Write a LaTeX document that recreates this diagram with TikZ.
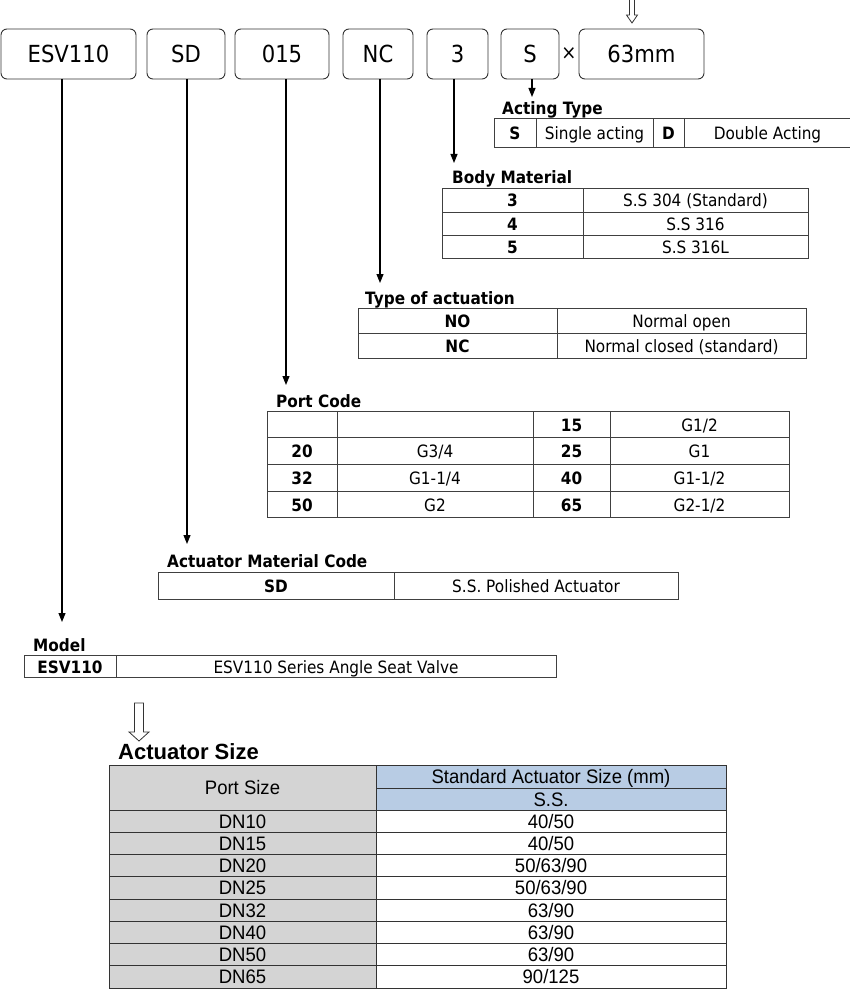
\documentclass[tikz,border=0pt]{standalone}
\usepackage{fontspec}
\setmainfont{DejaVu Sans}[FakeStretch=0.9]
\newfontfamily\arn{Liberation Sans}[FakeStretch=0.95]
\newfontfamily\arw{Liberation Sans}
\usetikzlibrary{arrows.meta}
\definecolor{cellgray}{HTML}{D4D4D4}
\definecolor{cellblue}{HTML}{B8CCE4}
\tikzset{
 code/.style={draw=black!80, line width=0.9pt, rounded corners=6pt, inner sep=0pt, outer sep=0pt,
   text height=17pt, text depth=0pt, font=\fontsize{23.5}{23.5}\selectfont},
 cellb/.style={draw=black!75, line width=0.9pt, inner sep=0pt, outer sep=0pt,
   text height=14pt, text depth=0pt, font=\fontsize{17}{17}\selectfont},
 ttl/.style={anchor=base west, inner sep=0pt, font=\bfseries\fontsize{17}{17}\selectfont},
 bigttl/.style={anchor=base west, inner sep=0pt, font=\arw\bfseries\fontsize{22}{22}\selectfont},
 conn/.style={draw=black, line width=1.1pt, -{Triangle[length=9pt,width=7pt]}},
 hollow/.style={draw=black!80, line width=0.8pt, fill=white},
 bcell/.style={draw=black!80, line width=0.8pt, inner sep=0pt, outer sep=0pt,
   text height=14pt, text depth=0pt, font=\arn\fontsize{19.5}{19.5}\selectfont},
}
\newcommand\Cell[7]{\node[#6, minimum width={((#4)-(#2))*1pt}, minimum height={((#5)-(#3))*1pt}] (#1) at ({((#2)+(#4))/2},{((#3)+(#5))/2}) {#7};}
\begin{document}
\begin{tikzpicture}[x=1pt,y=-1pt]
\useasboundingbox (0,0) rectangle (850,1000);
% top code boxes
\Cell{esv}{1}{29}{136}{79}{code}{ESV110}
\Cell{sd}{147}{29}{225}{79}{code}{SD}
\Cell{c015}{235}{29}{329}{79}{code}{015}
\Cell{nc}{343}{29}{413}{79}{code}{NC}
\Cell{c3}{427}{29}{488}{79}{code}{3}
\Cell{cs}{501}{29}{559}{79}{code}{S}
\node[inner sep=0pt, font=\fontsize{20}{20}\selectfont] (times) at (569,54) {×};
\Cell{c63}{579}{29}{704}{79}{code}{63mm}
% hollow arrow at top
\draw[hollow] (629.5,-2) -- (629.5,15) -- (626.5,15) -- (632,23) -- (637.5,15) -- (634.5,15) -- (634.5,-2);
% connector tips
\coordinate (tM) at (62,622);
\coordinate (tSD) at (187,544);
\coordinate (t015) at (286,385);
\coordinate (tNC) at (380,283);
\coordinate (t3) at (454,163);
\coordinate (tS) at (532,97);
\draw[conn] (esv.south -| tM) -- (tM);
\draw[conn] (sd.south -| tSD) -- (tSD);
\draw[conn] (c015.south -| t015) -- (t015);
\draw[conn] (nc.south -| tNC) -- (tNC);
\draw[conn] (c3.south -| t3) -- (t3);
\draw[conn] (cs.south -| tS) -- (tS);
% Acting Type
\node[ttl] (ttlAT) at (502,115) {Acting Type};
\Cell{at1}{494}{118}{536}{147}{cellb}{\bfseries S}
\Cell{at2}{536}{118}{653}{147}{cellb}{Single acting}
\Cell{at3}{653}{118}{684}{147}{cellb}{\bfseries D}
\Cell{at4}{684}{118}{851}{147}{cellb}{Double Acting}
% Body Material
\node[ttl] (ttlBM) at (452,184) {Body Material};
\Cell{bm1a}{442}{188}{583}{212}{cellb}{\bfseries 3}
\Cell{bm1b}{583}{188}{808}{212}{cellb}{S.S 304 (Standard)}
\Cell{bm2a}{442}{212}{583}{235}{cellb}{\bfseries 4}
\Cell{bm2b}{583}{212}{808}{235}{cellb}{S.S 316}
\Cell{bm3a}{442}{235}{583}{258}{cellb}{\bfseries 5}
\Cell{bm3b}{583}{235}{808}{258}{cellb}{S.S 316L}
% Type of actuation
\node[ttl] (ttlTA) at (365,304) {Type of actuation};
\Cell{ta1a}{358}{308}{557}{333}{cellb}{\bfseries NO}
\Cell{ta1b}{557}{308}{806}{333}{cellb}{Normal open}
\Cell{ta2a}{358}{333}{557}{358}{cellb}{\bfseries NC}
\Cell{ta2b}{557}{333}{806}{358}{cellb}{Normal closed (standard)}
% Port Code
\node[ttl] (ttlPC) at (276,407) {Port Code};
\Cell{pc1a}{267}{411}{337}{437}{cellb}{}
\Cell{pc1b}{337}{411}{533}{437}{cellb}{}
\Cell{pc1c}{533}{411}{610}{437}{cellb}{\bfseries 15}
\Cell{pc1d}{610}{411}{789}{437}{cellb}{G1/2}
\Cell{pc2a}{267}{437}{337}{464}{cellb}{\bfseries 20}
\Cell{pc2b}{337}{437}{533}{464}{cellb}{G3/4}
\Cell{pc2c}{533}{437}{610}{464}{cellb}{\bfseries 25}
\Cell{pc2d}{610}{437}{789}{464}{cellb}{G1}
\Cell{pc3a}{267}{464}{337}{491}{cellb}{\bfseries 32}
\Cell{pc3b}{337}{464}{533}{491}{cellb}{G1-1/4}
\Cell{pc3c}{533}{464}{610}{491}{cellb}{\bfseries 40}
\Cell{pc3d}{610}{464}{789}{491}{cellb}{G1-1/2}
\Cell{pc4a}{267}{491}{337}{517}{cellb}{\bfseries 50}
\Cell{pc4b}{337}{491}{533}{517}{cellb}{G2}
\Cell{pc4c}{533}{491}{610}{517}{cellb}{\bfseries 65}
\Cell{pc4d}{610}{491}{789}{517}{cellb}{G2-1/2}
% Actuator Material Code
\node[ttl] (ttlAM) at (167,567) {Actuator Material Code};
\Cell{am1}{158}{572}{394}{599}{cellb}{\bfseries SD}
\Cell{am2}{394}{572}{678}{599}{cellb}{S.S. Polished Actuator}
% Model
\node[ttl] (ttlMD) at (33,651) {Model};
\Cell{md1}{24}{655}{116}{677}{cellb}{\bfseries ESV110}
\Cell{md2}{116}{655}{556}{677}{cellb}{ESV110 Series Angle Seat Valve}
% hollow arrow to actuator size
\draw[hollow] (134.5,703) -- (143.5,703) -- (143.5,732) -- (149,732) -- (139,741) -- (129,732) -- (134.5,732) -- cycle;
% Actuator Size
\node[bigttl] (ttlAS) at (118,759) {Actuator Size};
\Cell{psz}{109}{765}{376}{810}{bcell,fill=cellgray}{Port Size}
\Cell{std}{376}{765}{726}{788}{bcell,fill=cellblue}{Standard Actuator Size (mm)}
\Cell{ss}{376}{788}{726}{810}{bcell,fill=cellblue}{S.S.}
\foreach \dn/\sz [count=\i] in {DN10/40\slash 50, DN15/40\slash 50, DN20/50\slash 63\slash 90, DN25/50\slash 63\slash 90, DN32/63\slash 90, DN40/63\slash 90, DN50/63\slash 90, DN65/90\slash 125}{
  \Cell{dnL\i}{109}{810+(\i-1)*22.25}{376}{810+\i*22.25}{bcell,fill=cellgray}{\dn}
  \Cell{dnR\i}{376}{810+(\i-1)*22.25}{726}{810+\i*22.25}{bcell,fill=white}{\sz}
}
\end{tikzpicture}
\end{document}
